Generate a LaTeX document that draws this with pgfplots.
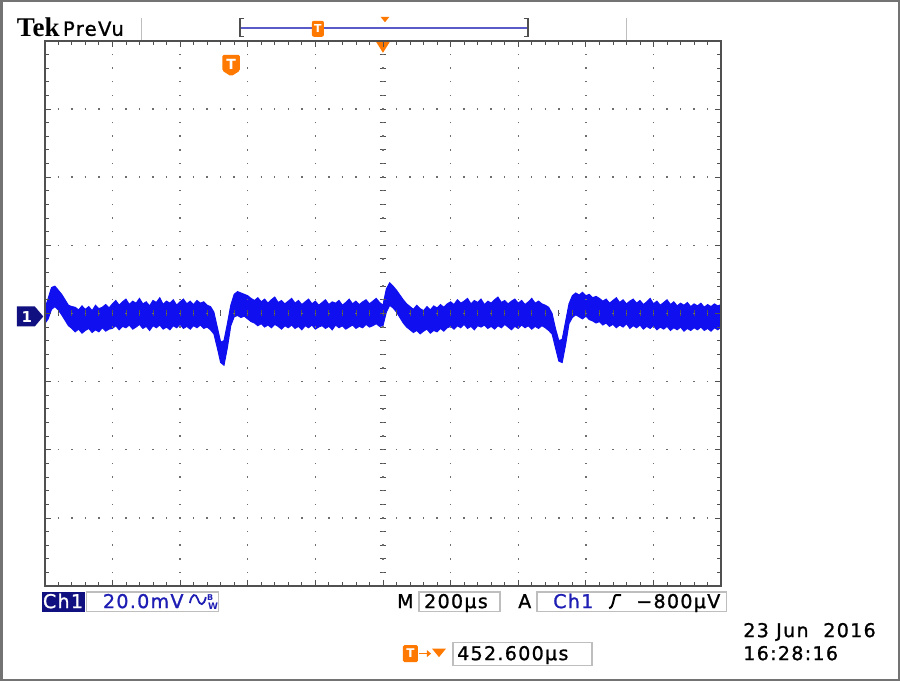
\documentclass[border=0pt]{standalone}
\usepackage{pgfplots}
\pgfplotsset{compat=1.18}
\usepgfplotslibrary{fillbetween}
\usepackage{fontspec}
\setmainfont{DejaVu Sans}
\newfontfamily\scopefont[LetterSpace=7,FakeBold=1.2]{DejaVu Sans}
\newfontfamily\tekfont{Liberation Serif}
\definecolor{traceblue}{RGB}{15,15,240}
\definecolor{navy}{RGB}{16,16,128}
\definecolor{textblue}{RGB}{30,30,180}
\definecolor{tekorange}{RGB}{255,120,0}
\definecolor{framegray}{RGB}{80,80,80}
\definecolor{gridgray}{RGB}{110,110,110}
\definecolor{barblue}{RGB}{90,90,200}
\definecolor{boxgray}{RGB}{190,190,190}
\begin{document}
\begin{tikzpicture}
\begin{scope}[x=1pt,y=-1pt,yshift=682pt]
\draw[line width=2.5pt, color=framegray!80] (1.5,1.5) rectangle (898.5,680);
\end{scope}

\begin{axis}[
  at={(45pt,96pt)}, anchor=south west,
  scale only axis, width=676pt, height=545pt,
  xmin=0, xmax=10, ymin=-4, ymax=4,
  xtick={0,...,10}, ytick={-4,...,4},
  minor x tick num=4, minor y tick num=4,
  xticklabels={}, yticklabels={},
  tick align=inside, tick pos=both,
  major tick length=6pt, minor tick length=4pt,
  tick style={line width=0.8pt, color=framegray},
  grid=major,
  x grid style={color=gridgray, line width=1.4pt, dash pattern=on 1.4pt off 12.225pt, dash phase=0.7pt},
  y grid style={color=gridgray, line width=1.4pt, dash pattern=on 1.4pt off 12.12pt, dash phase=0.7pt},
  axis on top,
  axis line style={line width=2.5pt, draw=framegray},
]
\addplot[name path=U, draw=traceblue, line width=1pt] coordinates {
(0,0.06)(0.05,0.22)(0.1,0.38)(0.15,0.40)(0.2,0.34)(0.25,0.28)(0.3,0.20)(0.35,0.12)(0.4,0.10)(0.45,0.09)(0.5,0.05)(0.55,0.11)(0.6,0.06)(0.65,0.10)(0.7,0.04)(0.75,0.12)(0.8,0.07)(0.85,0.09)(0.9,0.13)(0.95,0.08)
(1,0.14)(1.05,0.19)(1.1,0.12)(1.15,0.17)(1.2,0.21)(1.25,0.13)(1.3,0.18)(1.35,0.15)(1.4,0.22)(1.45,0.14)(1.5,0.17)(1.55,0.11)(1.6,0.19)(1.65,0.16)(1.7,0.23)(1.75,0.13)(1.8,0.18)(1.85,0.15)(1.9,0.20)(1.95,0.12)(2,0.17)(2.05,0.21)(2.1,0.14)(2.15,0.18)(2.2,0.13)(2.25,0.19)(2.3,0.15)(2.35,0.17)(2.4,0.12)(2.45,0.10)
(2.5,0.02)(2.55,-0.20)(2.6,-0.42)(2.65,-0.40)(2.7,-0.15)(2.75,0.12)(2.8,0.28)(2.85,0.32)(2.9,0.30)(2.95,0.28)(3,0.26)(3.05,0.22)
(3.1,0.19)(3.15,0.23)(3.2,0.17)(3.25,0.21)(3.3,0.15)(3.35,0.20)(3.4,0.24)(3.45,0.16)(3.5,0.19)(3.55,0.14)(3.6,0.18)(3.65,0.22)(3.7,0.15)(3.75,0.19)(3.8,0.13)(3.85,0.17)(3.9,0.21)(3.95,0.14)(4,0.18)(4.05,0.12)(4.1,0.16)(4.15,0.20)(4.2,0.13)(4.25,0.17)(4.3,0.15)(4.35,0.19)(4.4,0.12)(4.45,0.16)(4.5,0.21)(4.55,0.14)(4.6,0.18)(4.65,0.13)(4.7,0.17)(4.75,0.20)(4.8,0.14)(4.85,0.18)(4.9,0.22)(4.95,0.16)
(5,0.12)(5.05,0.36)(5.1,0.45)(5.15,0.40)(5.2,0.34)(5.25,0.27)(5.3,0.20)(5.35,0.14)
(5.4,0.10)(5.45,0.06)(5.5,0.12)(5.55,0.07)(5.6,0.04)(5.65,0.10)(5.7,0.05)(5.75,0.11)(5.8,0.08)(5.85,0.13)(5.9,0.09)(5.95,0.14)
(6,0.17)(6.05,0.13)(6.1,0.20)(6.15,0.15)(6.2,0.18)(6.25,0.22)(6.3,0.14)(6.35,0.19)(6.4,0.16)(6.45,0.21)(6.5,0.13)(6.55,0.18)(6.6,0.15)(6.65,0.20)(6.7,0.24)(6.75,0.16)(6.8,0.19)(6.85,0.14)(6.9,0.18)(6.95,0.21)(7,0.15)(7.05,0.19)(7.1,0.13)(7.15,0.17)(7.2,0.22)(7.25,0.15)(7.3,0.18)(7.35,0.14)(7.4,0.12)(7.45,0.09)
(7.5,0.00)(7.55,-0.22)(7.6,-0.40)(7.65,-0.38)(7.7,-0.12)(7.75,0.14)
(7.8,0.26)(7.85,0.30)(7.9,0.27)(7.95,0.31)(8,0.26)(8.05,0.28)(8.1,0.23)(8.15,0.25)
(8.2,0.22)(8.25,0.18)(8.3,0.21)(8.35,0.15)(8.4,0.19)(8.45,0.23)(8.5,0.16)(8.55,0.20)(8.6,0.14)(8.65,0.18)(8.7,0.21)(8.75,0.15)(8.8,0.19)(8.85,0.13)(8.9,0.17)(8.95,0.22)(9,0.14)(9.05,0.18)(9.1,0.12)(9.15,0.16)(9.2,0.20)(9.25,0.13)(9.3,0.17)(9.35,0.11)(9.4,0.15)(9.45,0.12)(9.5,0.16)(9.55,0.10)(9.6,0.14)(9.65,0.11)(9.7,0.15)(9.75,0.09)(9.8,0.13)(9.85,0.10)(9.9,0.14)(9.95,0.11)(10,0.13)
};
\addplot[name path=L, draw=traceblue, line width=1pt] coordinates {
(0,-0.15)(0.05,-0.08)(0.1,0.06)(0.15,0.10)(0.2,0.05)(0.25,-0.02)(0.3,-0.10)(0.35,-0.18)(0.4,-0.22)(0.45,-0.27)(0.5,-0.23)(0.55,-0.29)(0.6,-0.25)(0.65,-0.22)(0.7,-0.28)(0.75,-0.24)(0.8,-0.27)(0.85,-0.21)(0.9,-0.26)(0.95,-0.23)
(1,-0.22)(1.05,-0.18)(1.1,-0.24)(1.15,-0.19)(1.2,-0.21)(1.25,-0.17)(1.3,-0.23)(1.35,-0.20)(1.4,-0.16)(1.45,-0.22)(1.5,-0.19)(1.55,-0.25)(1.6,-0.18)(1.65,-0.21)(1.7,-0.17)(1.75,-0.23)(1.8,-0.20)(1.85,-0.24)(1.9,-0.18)(1.95,-0.21)(2,-0.16)(2.05,-0.22)(2.1,-0.19)(2.15,-0.23)(2.2,-0.18)(2.25,-0.21)(2.3,-0.17)(2.35,-0.22)(2.4,-0.20)(2.45,-0.24)
(2.5,-0.30)(2.55,-0.50)(2.6,-0.72)(2.65,-0.76)(2.7,-0.50)(2.75,-0.18)(2.8,-0.05)(2.85,-0.03)(2.9,-0.06)(2.95,-0.04)(3,-0.08)(3.05,-0.12)
(3.1,-0.14)(3.15,-0.18)(3.2,-0.15)(3.25,-0.20)(3.3,-0.17)(3.35,-0.21)(3.4,-0.16)(3.45,-0.19)(3.5,-0.23)(3.55,-0.18)(3.6,-0.21)(3.65,-0.17)(3.7,-0.22)(3.75,-0.19)(3.8,-0.24)(3.85,-0.18)(3.9,-0.21)(3.95,-0.17)(4,-0.23)(4.05,-0.20)(4.1,-0.18)(4.15,-0.22)(4.2,-0.19)(4.25,-0.24)(4.3,-0.17)(4.35,-0.21)(4.4,-0.18)(4.45,-0.23)(4.5,-0.20)(4.55,-0.17)(4.6,-0.22)(4.65,-0.19)(4.7,-0.21)(4.75,-0.16)(4.8,-0.20)(4.85,-0.18)(4.9,-0.15)(4.95,-0.19)
(5,-0.18)(5.05,0.02)(5.1,0.12)(5.15,0.08)(5.2,0.02)(5.25,-0.06)(5.3,-0.14)(5.35,-0.20)
(5.4,-0.24)(5.45,-0.28)(5.5,-0.25)(5.55,-0.30)(5.6,-0.26)(5.65,-0.23)(5.7,-0.29)(5.75,-0.25)(5.8,-0.27)(5.85,-0.22)(5.9,-0.26)(5.95,-0.21)
(6,-0.19)(6.05,-0.23)(6.1,-0.18)(6.15,-0.21)(6.2,-0.16)(6.25,-0.22)(6.3,-0.19)(6.35,-0.24)(6.4,-0.18)(6.45,-0.20)(6.5,-0.17)(6.55,-0.22)(6.6,-0.19)(6.65,-0.23)(6.7,-0.18)(6.75,-0.21)(6.8,-0.16)(6.85,-0.20)(6.9,-0.24)(6.95,-0.19)(7,-0.22)(7.05,-0.17)(7.1,-0.21)(7.15,-0.18)(7.2,-0.23)(7.25,-0.19)(7.3,-0.22)(7.35,-0.18)(7.4,-0.21)(7.45,-0.25)
(7.5,-0.30)(7.55,-0.50)(7.6,-0.70)(7.65,-0.72)(7.7,-0.46)(7.75,-0.15)
(7.8,-0.06)(7.85,-0.02)(7.9,-0.05)(7.95,-0.08)(8,-0.04)(8.05,-0.09)(8.1,-0.11)(8.15,-0.14)
(8.2,-0.12)(8.25,-0.17)(8.3,-0.14)(8.35,-0.19)(8.4,-0.16)(8.45,-0.21)(8.5,-0.17)(8.55,-0.20)(8.6,-0.15)(8.65,-0.22)(8.7,-0.18)(8.75,-0.21)(8.8,-0.17)(8.85,-0.23)(8.9,-0.19)(8.95,-0.22)(9,-0.18)(9.05,-0.24)(9.1,-0.20)(9.15,-0.23)(9.2,-0.19)(9.25,-0.25)(9.3,-0.21)(9.35,-0.24)(9.4,-0.20)(9.45,-0.26)(9.5,-0.22)(9.55,-0.25)(9.6,-0.21)(9.65,-0.24)(9.7,-0.20)(9.75,-0.25)(9.8,-0.22)(9.85,-0.26)(9.9,-0.21)(9.95,-0.24)(10,-0.20)
};
\addplot[traceblue] fill between[of=U and L];
\end{axis}

\begin{scope}[x=1pt,y=-1pt,yshift=682pt]
% center cross ticks
\foreach \k in {1,...,39} \draw[line width=0.8pt, framegray] (380,{41+\k*13.625}) -- (386,{41+\k*13.625});
\foreach \k in {1,...,49} \draw[line width=0.8pt, framegray] ({45+\k*13.52},310.5) -- ({45+\k*13.52},316.5);
% header
\node[anchor=base west, inner sep=0, font=\tekfont\bfseries\fontsize{27}{27}\selectfont] at (17,37) {Tek};
\node[anchor=base west, inner sep=0, font=\scopefont\fontsize{19.5}{19.5}\selectfont] at (63,36) {PreVu};
\draw[boxgray, line width=1.2pt] (142,18) -- (142,40);
\draw[boxgray, line width=1.2pt] (626,18) -- (626,40);
\draw[barblue, line width=2pt] (240,28) -- (528,28);
\draw[framegray, line width=1.3pt] (244,19) -- (240,19) -- (240,37) -- (244,37);
\draw[framegray, line width=1.3pt] (524,19) -- (528,19) -- (528,37) -- (524,37);
\fill[tekorange, rounded corners=2pt] (312,21) rectangle (324,37);
\node[white, font=\bfseries\fontsize{11}{11}\selectfont, inner sep=0] at (318,29) {T};
\fill[tekorange] (380.5,17) -- (389.5,17) -- (385,22.5) -- cycle;
% trigger position and trigger marker
\fill[tekorange] (375.5,41) -- (390.5,41) -- (383,53) -- cycle;
\fill[tekorange, rounded corners=1.5pt] (222.5,55) -- (240,55) -- (240,71) -- (231.25,76.5) -- (222.5,71) -- cycle;
\node[white, font=\bfseries\fontsize{14}{14}\selectfont, inner sep=0] at (231.25,64.5) {T};
% ch1 ground marker
\fill[navy] (17,306.5) -- (35,306.5) -- (43.5,316.5) -- (35,326.5) -- (17,326.5) -- cycle;
\node[white, font=\bfseries\fontsize{15}{15}\selectfont, inner sep=0] at (27,316.8) {1};
% bottom status line
\fill[navy] (42,592) rectangle (85.5,611.5);
\node[anchor=base west, inner sep=0, white, font=\scopefont\fontsize{19}{19}\selectfont] at (43,608) {Ch1};
\draw[boxgray, line width=1.2pt] (86.5,592) rectangle (219,611.5);
\node[anchor=base west, inner sep=0, textblue, font=\scopefont\fontsize{19}{19}\selectfont] at (103,608) {20.0mV};
\draw[textblue, line width=1.8pt] (190,603) .. controls (192,593) and (196,593) .. (198,599) .. controls (200,606) and (204,606) .. (206,597);
\node[anchor=base west, inner sep=0, textblue, font=\bfseries\fontsize{8}{8}\selectfont] at (207,600) {B};
\node[anchor=base west, inner sep=0, textblue, font=\bfseries\fontsize{9}{9}\selectfont] at (208,609) {W};
\node[anchor=base west, inner sep=0, font=\scopefont\fontsize{19}{19}\selectfont] at (397,608) {M};
\draw[boxgray, line width=1.2pt] (419,592) rectangle (500,611.5);
\node[anchor=base west, inner sep=0, font=\scopefont\fontsize{19}{19}\selectfont] at (424,608) {200µs};
\node[anchor=base west, inner sep=0, font=\scopefont\fontsize{19}{19}\selectfont] at (518,608) {A};
\draw[boxgray, line width=1.2pt] (537,592) rectangle (726,611.5);
\node[anchor=base west, inner sep=0, textblue, font=\scopefont\fontsize{19}{19}\selectfont] at (553,608) {Ch1};
\draw[black, line width=2pt] (609,608) .. controls (614,608) and (613,595) .. (616,595) -- (621,595);
\node[anchor=base west, inner sep=0, font=\scopefont\fontsize{19}{19}\selectfont] at (636,608) {−800µV};
% date and time
\node[anchor=base west, inner sep=0, font=\scopefont\fontsize{19}{19}\selectfont] at (743,637) {23 Jun\ \ 2016};
\node[anchor=base west, inner sep=0, font=\scopefont\fontsize{19}{19}\selectfont] at (743,660) {16:28:16};
% trigger position readout
\fill[tekorange, rounded corners=1.5pt] (403,645) rectangle (418,662);
\node[white, font=\bfseries\fontsize{12}{12}\selectfont, inner sep=0] at (410.5,653.5) {T};
\draw[tekorange, line width=1.5pt] (419,653.5) -- (428,653.5);
\fill[tekorange] (427,650) -- (431,653.5) -- (427,657) -- cycle;
\fill[tekorange] (432,648.5) -- (446,648.5) -- (439,657) -- cycle;
\draw[boxgray, line width=1.2pt] (453,642) rectangle (592,665);
\node[anchor=base west, inner sep=0, font=\scopefont\fontsize{19}{19}\selectfont] at (457,660) {452.600µs};
\end{scope}
\end{tikzpicture}
\end{document}
